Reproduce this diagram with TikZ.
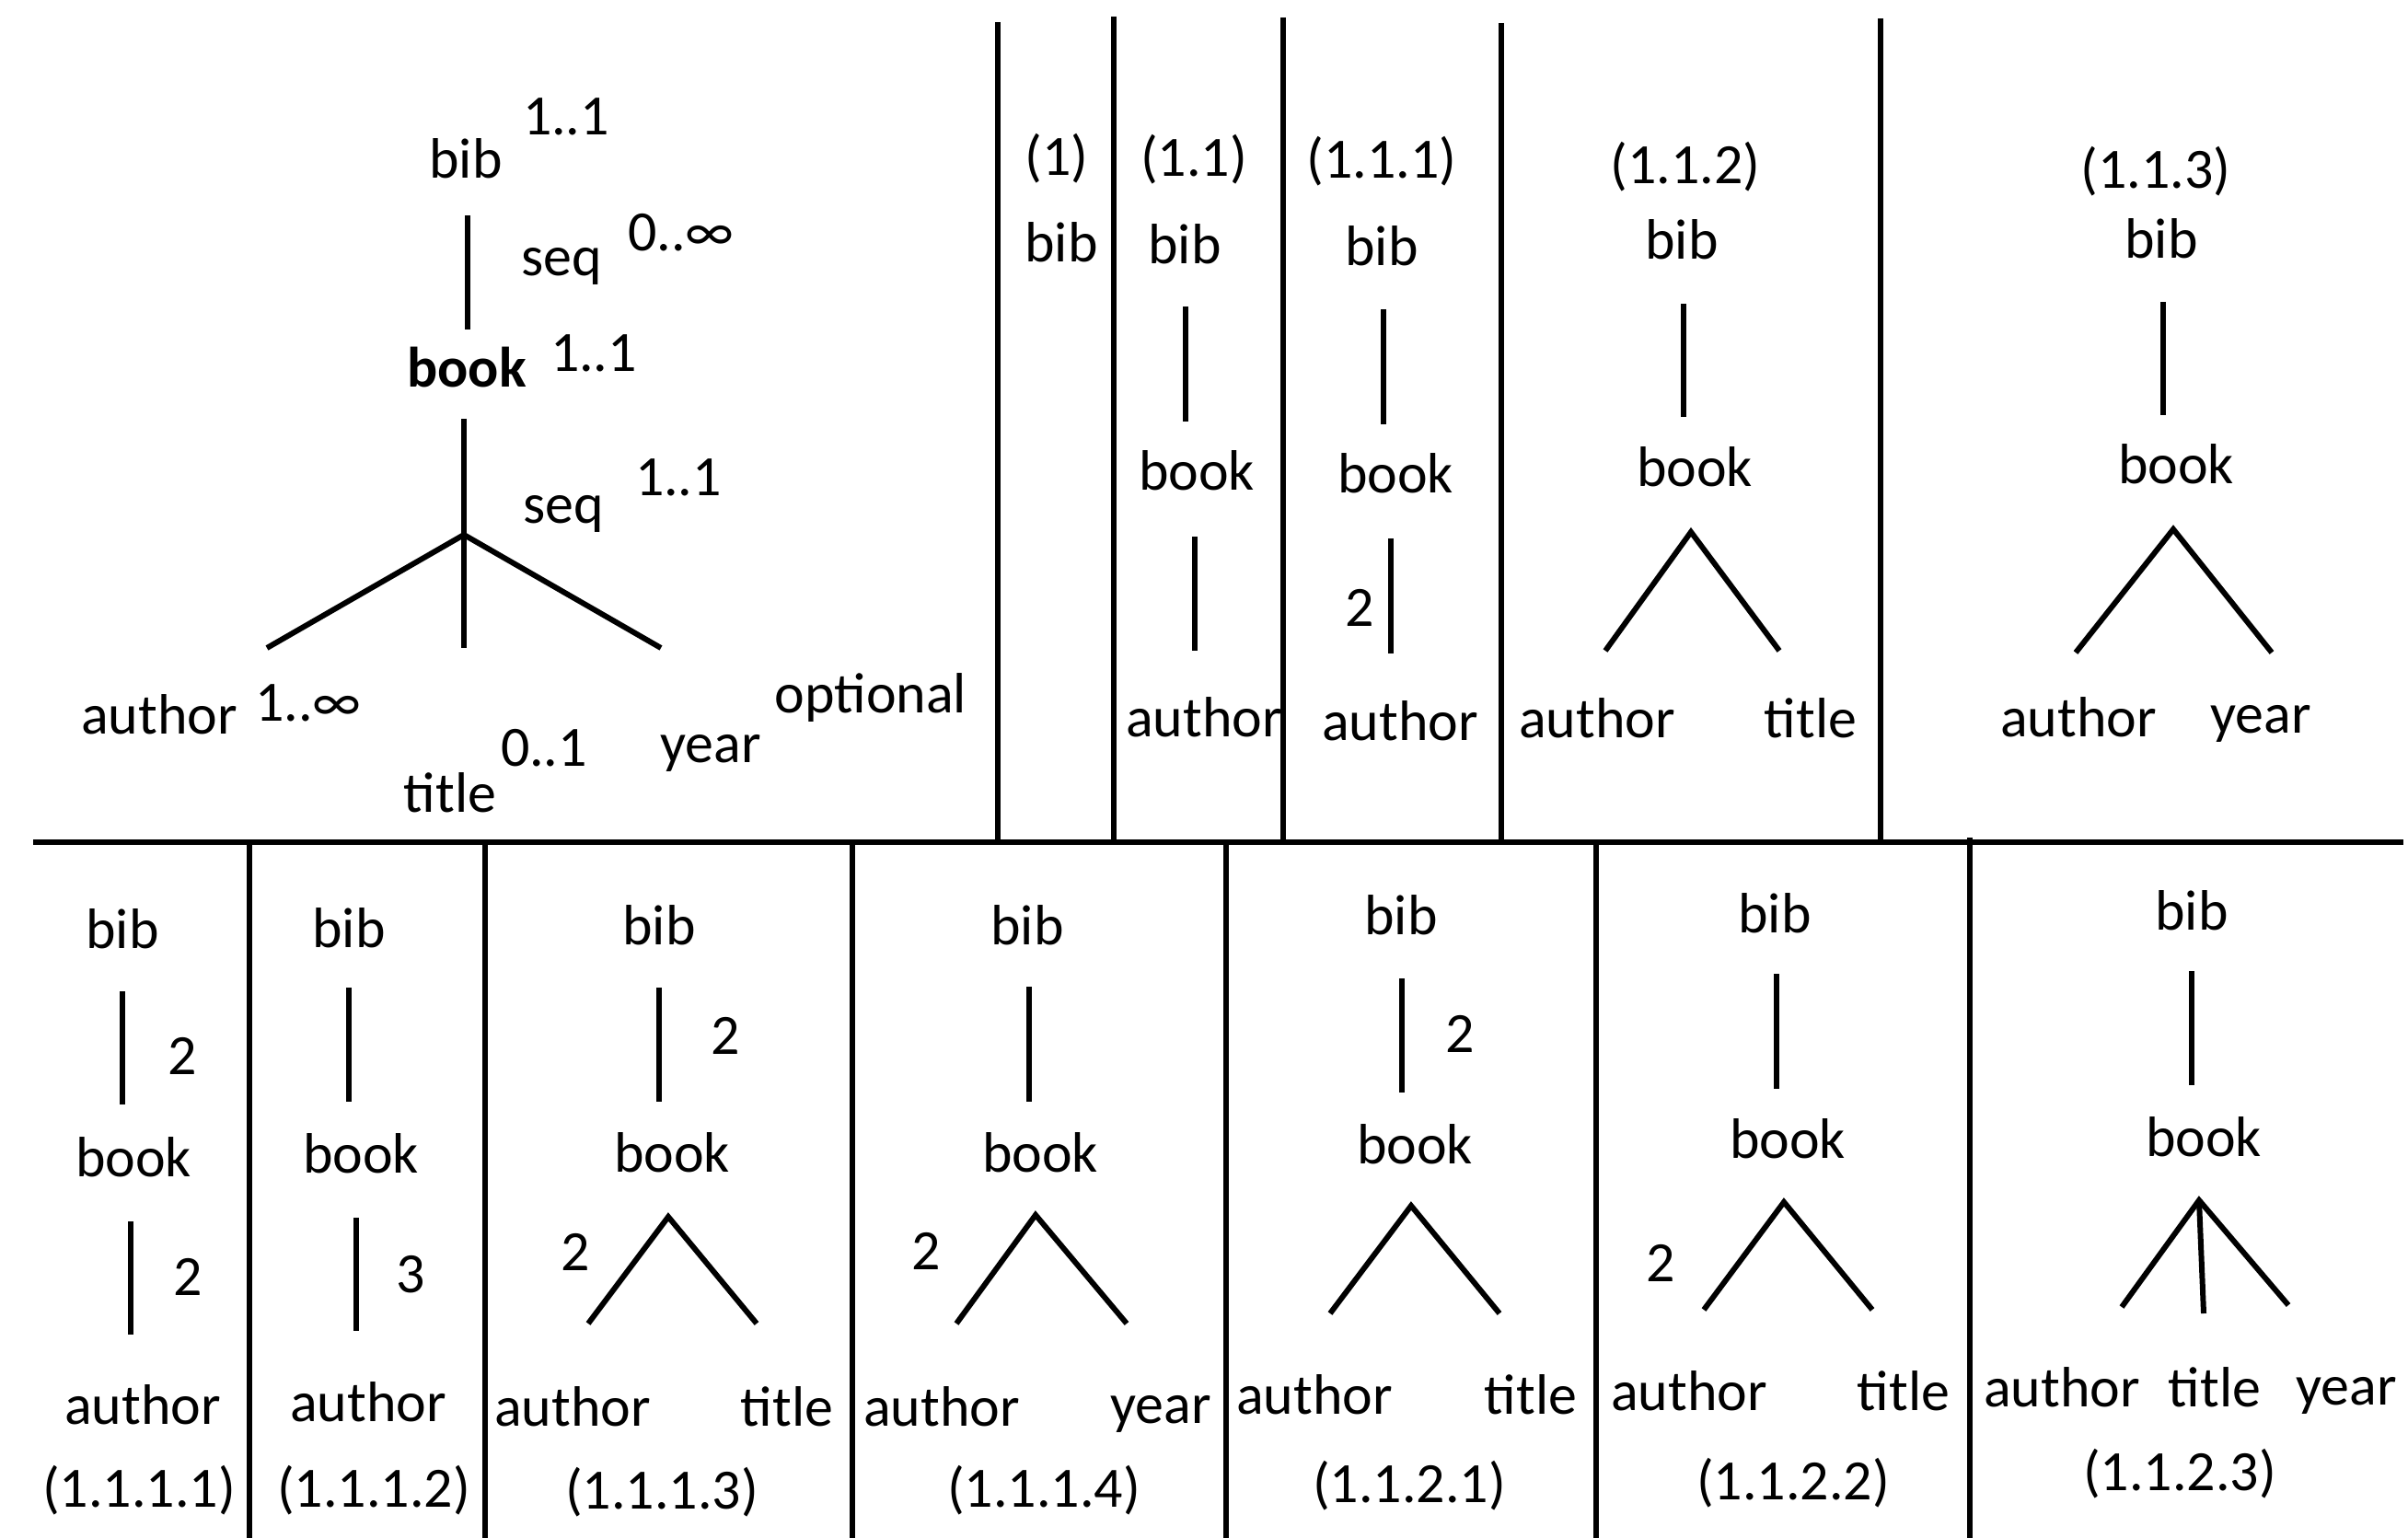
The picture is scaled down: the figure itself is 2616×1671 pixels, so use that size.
\documentclass[tikz,border=0pt]{standalone}
\usepackage{fontspec}
\setmainfont{Carlito}
\begin{document}
\begin{tikzpicture}[x=0.01cm,y=-0.01cm,
  lbl/.style={anchor=base,inner sep=0pt,font=\fontsize{17.6}{20}\selectfont},
  ln/.style={line width=1.7pt},
  sep/.style={line width=1.7pt}]
\useasboundingbox (0,0) rectangle (2616,1671);
% ---------- separators ----------
\coordinate (h1) at (36,915); \coordinate (h2) at (2611,915);
\draw[sep] (h1) -- (h2);
\foreach \n/\x/\y in {v1/1084/24, v2/1210/18, v3/1394/19, v4/1631/25, v5/2043/20}{
  \coordinate (\n t) at (\x,\y); \coordinate (\n b) at (\x,915);
  \draw[sep] (\n t) -- (\n b);}
\foreach \n/\x/\y in {w1/271/915, w2/527/915, w3/926/915, w4/1332/915, w5/1734/915, w6/2140/910}{
  \coordinate (\n t) at (\x,\y); \coordinate (\n b) at (\x,1671);
  \draw[sep] (\n t) -- (\n b);}
% ---------- schema tree ----------
\node[lbl] (t-bib) at (506,194) {bib};
\node[lbl] (t-m1) at (615,147) {1..1};
\node[lbl] (t-seq1) at (610,300) {seq};
\node[lbl] (t-m2) at (740,273) {0..∞};
\node[lbl,font=\fontsize{17.6}{20}\selectfont\bfseries] (t-book) at (507,421) {book};
\node[lbl] (t-m3) at (645,404) {1..1};
\node[lbl] (t-seq2) at (612,569) {seq};
\node[lbl] (t-m4) at (737,539) {1..1};
\node[lbl] (t-author) at (173,798) {author};
\node[lbl] (t-m5) at (335,784) {1..∞};
\node[lbl] (t-title) at (489,883) {title};
\node[lbl] (t-m6) at (591,833) {0..1};
\node[lbl] (t-year) at (772,829) {year};
\node[lbl] (t-opt) at (946,775) {optional};
\coordinate (t-a1) at (508,234); \coordinate (t-a2) at (508,358);
\coordinate (t-b1) at (504,455); \coordinate (t-j) at (504,581);
\coordinate (t-c1) at (290,704); \coordinate (t-c2) at (504,704); \coordinate (t-c3) at (718,704);
\draw[ln] (t-a1) -- (t-a2);
\draw[ln] (t-b1) -- (t-j);
\draw[ln] (t-j) -- (t-c1);
\draw[ln] (t-j) -- (t-c2);
\draw[ln] (t-j) -- (t-c3);
% ---------- (1) ----------
\node[lbl] (p1-id) at (1148,191) {(1)};
\node[lbl] (p1-bib) at (1153,285) {bib};
% ---------- (1.1) ----------
\node[lbl] (p11-id) at (1297,192) {(1.1)};
\node[lbl] (p11-bib) at (1287,287) {bib};
\node[lbl] (p11-book) at (1300,533) {book};
\node[lbl] (p11-author) at (1308,801) {author};
\coordinate (p11-a1) at (1288,333); \coordinate (p11-a2) at (1288,458);
\coordinate (p11-b1) at (1298,583); \coordinate (p11-b2) at (1298,707);
\draw[ln] (p11-a1) -- (p11-a2);
\draw[ln] (p11-b1) -- (p11-b2);
% ---------- (1.1.1) ----------
\node[lbl] (p111-id) at (1501,194) {(1.1.1)};
\node[lbl] (p111-bib) at (1501,289) {bib};
\node[lbl] (p111-book) at (1516,536) {book};
\node[lbl] (p111-n) at (1477,681) {2};
\node[lbl] (p111-author) at (1521,805) {author};
\coordinate (p111-a1) at (1503,336); \coordinate (p111-a2) at (1503,461);
\coordinate (p111-b1) at (1511,585); \coordinate (p111-b2) at (1511,710);
\draw[ln] (p111-a1) -- (p111-a2);
\draw[ln] (p111-b1) -- (p111-b2);
% ---------- (1.1.2) ----------
\node[lbl] (p112-id) at (1831,200) {(1.1.2)};
\node[lbl] (p112-bib) at (1827,282) {bib};
\node[lbl] (p112-book) at (1841,529) {book};
\node[lbl] (p112-author) at (1735,802) {author};
\node[lbl] (p112-title) at (1967,802) {title};
\coordinate (p112-a1) at (1829,330); \coordinate (p112-a2) at (1829,453);
\coordinate (p112-j) at (1837,578);
\coordinate (p112-l) at (1744,707); \coordinate (p112-r) at (1933,707);
\draw[ln] (p112-a1) -- (p112-a2);
\draw[ln] (p112-l) -- (p112-j) -- (p112-r);
% ---------- (1.1.3) ----------
\node[lbl] (p113-id) at (2342,205) {(1.1.3)};
\node[lbl] (p113-bib) at (2348,281) {bib};
\node[lbl] (p113-book) at (2364,526) {book};
\node[lbl] (p113-author) at (2258,801) {author};
\node[lbl] (p113-year) at (2456,797) {year};
\coordinate (p113-a1) at (2350,328); \coordinate (p113-a2) at (2350,451);
\coordinate (p113-j) at (2361,575);
\coordinate (p113-l) at (2255,709); \coordinate (p113-r) at (2468,709);
\draw[ln] (p113-a1) -- (p113-a2);
\draw[ln] (p113-l) -- (p113-j) -- (p113-r);
% ---------- (1.1.1.1) ----------
\node[lbl] (q1-bib) at (133,1030) {bib};
\node[lbl] (q1-n1) at (198,1167) {2};
\node[lbl] (q1-book) at (145,1278) {book};
\node[lbl] (q1-n2) at (204,1407) {2};
\node[lbl] (q1-author) at (155,1547) {author};
\node[lbl] (q1-id) at (151,1637) {(1.1.1.1)};
\coordinate (q1-a1) at (133,1077); \coordinate (q1-a2) at (133,1200);
\coordinate (q1-b1) at (142,1327); \coordinate (q1-b2) at (142,1450);
\draw[ln] (q1-a1) -- (q1-a2);
\draw[ln] (q1-b1) -- (q1-b2);
% ---------- (1.1.1.2) ----------
\node[lbl] (q2-bib) at (379,1029) {bib};
\node[lbl] (q2-book) at (392,1274) {book};
\node[lbl] (q2-n) at (446,1404) {3};
\node[lbl] (q2-author) at (400,1544) {author};
\node[lbl] (q2-id) at (406,1637) {(1.1.1.2)};
\coordinate (q2-a1) at (379,1073); \coordinate (q2-a2) at (379,1197);
\coordinate (q2-b1) at (387,1323); \coordinate (q2-b2) at (387,1446);
\draw[ln] (q2-a1) -- (q2-a2);
\draw[ln] (q2-b1) -- (q2-b2);
% ---------- (1.1.1.3) ----------
\node[lbl] (q3-bib) at (716,1027) {bib};
\node[lbl] (q3-n1) at (788,1145) {2};
\node[lbl] (q3-book) at (730,1273) {book};
\node[lbl] (q3-n2) at (625,1380) {2};
\node[lbl] (q3-author) at (622,1549) {author};
\node[lbl] (q3-title) at (855,1549) {title};
\node[lbl] (q3-id) at (719,1639) {(1.1.1.3)};
\coordinate (q3-a1) at (716,1073); \coordinate (q3-a2) at (716,1197);
\coordinate (q3-j) at (726,1322);
\coordinate (q3-l) at (639,1438); \coordinate (q3-r) at (822,1438);
\draw[ln] (q3-a1) -- (q3-a2);
\draw[ln] (q3-l) -- (q3-j) -- (q3-r);
% ---------- (1.1.1.4) ----------
\node[lbl] (q4-bib) at (1116,1026) {bib};
\node[lbl] (q4-book) at (1130,1273) {book};
\node[lbl] (q4-n) at (1006,1379) {2};
\node[lbl] (q4-author) at (1023,1549) {author};
\node[lbl] (q4-year) at (1261,1546) {year};
\node[lbl] (q4-id) at (1134,1637) {(1.1.1.4)};
\coordinate (q4-a1) at (1118,1072); \coordinate (q4-a2) at (1118,1197);
\coordinate (q4-j) at (1125,1320);
\coordinate (q4-l) at (1039,1438); \coordinate (q4-r) at (1224,1438);
\draw[ln] (q4-a1) -- (q4-a2);
\draw[ln] (q4-l) -- (q4-j) -- (q4-r);
% ---------- (1.1.2.1) ----------
\node[lbl] (q5-bib) at (1522,1015) {bib};
\node[lbl] (q5-n) at (1586,1143) {2};
\node[lbl] (q5-book) at (1537,1264) {book};
\node[lbl] (q5-author) at (1428,1536) {author};
\node[lbl] (q5-title) at (1663,1536) {title};
\node[lbl] (q5-id) at (1531,1632) {(1.1.2.1)};
\coordinate (q5-a1) at (1523,1063); \coordinate (q5-a2) at (1523,1187);
\coordinate (q5-j) at (1533,1310);
\coordinate (q5-l) at (1445,1427); \coordinate (q5-r) at (1629,1427);
\draw[ln] (q5-a1) -- (q5-a2);
\draw[ln] (q5-l) -- (q5-j) -- (q5-r);
% ---------- (1.1.2.2) ----------
\node[lbl] (q6-bib) at (1928,1013) {bib};
\node[lbl] (q6-book) at (1942,1258) {book};
\node[lbl] (q6-n) at (1804,1392) {2};
\node[lbl] (q6-author) at (1835,1532) {author};
\node[lbl] (q6-title) at (2068,1532) {title};
\node[lbl] (q6-id) at (1948,1629) {(1.1.2.2)};
\coordinate (q6-a1) at (1930,1058); \coordinate (q6-a2) at (1930,1183);
\coordinate (q6-j) at (1938,1306);
\coordinate (q6-l) at (1851,1423); \coordinate (q6-r) at (2034,1423);
\draw[ln] (q6-a1) -- (q6-a2);
\draw[ln] (q6-l) -- (q6-j) -- (q6-r);
% ---------- (1.1.2.3) ----------
\node[lbl] (q7-bib) at (2381,1010) {bib};
\node[lbl] (q7-book) at (2394,1256) {book};
\node[lbl] (q7-author) at (2240,1528) {author};
\node[lbl] (q7-title) at (2406,1528) {title};
\node[lbl] (q7-year) at (2549,1526) {year};
\node[lbl] (q7-id) at (2368,1619) {(1.1.2.3)};
\coordinate (q7-a1) at (2381,1055); \coordinate (q7-a2) at (2381,1179);
\coordinate (q7-j) at (2389,1304);
\coordinate (q7-l) at (2305,1420); \coordinate (q7-m) at (2394,1427); \coordinate (q7-r) at (2486,1418);
\draw[ln] (q7-a1) -- (q7-a2);
\draw[ln] (q7-l) -- (q7-j) -- (q7-r);
\draw[ln] (q7-j) -- (q7-m);
\end{tikzpicture}
\end{document}
